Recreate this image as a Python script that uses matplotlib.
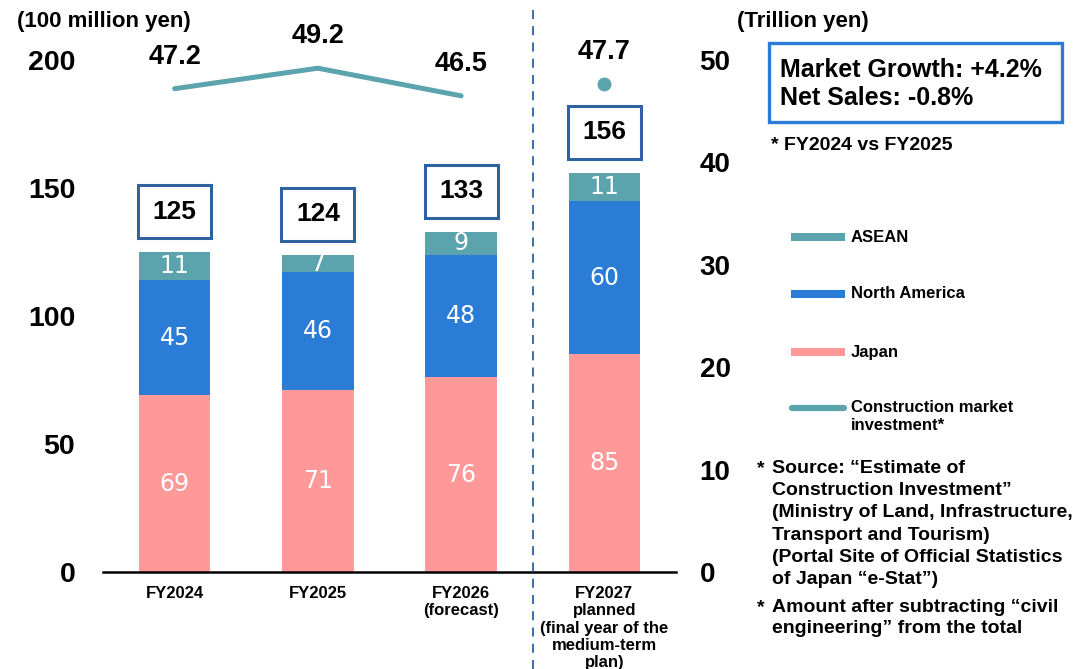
import matplotlib
matplotlib.use("Agg")
import matplotlib.pyplot as plt
from matplotlib.patches import Rectangle
from matplotlib.lines import Line2D

plt.rcParams['font.family'] = ['Liberation Sans', 'DejaVu Sans']

# -----------------------------
# data
# -----------------------------
years = ["FY2024", "FY2025", "FY2026\n(forecast)",
         "FY2027\nplanned\n(final year of the\nmedium-term\nplan)"]
japan = [69, 71, 76, 85]
north_america = [45, 46, 48, 60]
asean = [11, 7, 9, 11]
totals = [125, 124, 133, 156]
market = [47.2, 49.2, 46.5]      # actual / forecast, connected
market_plan = [47.7]             # planned year, single point

c_japan = "#ff9999"
c_na = "#2b7cd6"
c_asean = "#5ba4ad"
c_line = "#5ba4ad"
c_box = "#2e62a0"

W, H = 1074, 669
fig = plt.figure(figsize=(W / 100, H / 100), dpi=100)
ax = fig.add_axes([103 / W, 1 - 572 / H, 573 / W, 512 / H])
ax2 = ax.twinx()


def fx(px):
    return px / W


def fy(py):
    return 1 - py / H


x = list(range(len(years)))
w = 0.5

# -----------------------------
# stacked bars
# -----------------------------
bottom2 = [a + b for a, b in zip(japan, north_america)]
ax.bar(x, japan, w, color=c_japan, zorder=2)
ax.bar(x, north_america, w, bottom=japan, color=c_na, zorder=2)
ax.bar(x, asean, w, bottom=bottom2, color=c_asean, zorder=2)

for i in x:
    segs = [(0, japan[i]), (japan[i], north_america[i]), (bottom2[i], asean[i])]
    for b, v in segs:
        ax.text(i, b + v / 2, str(v), ha="center", va="center", color="white",
                fontsize=17, family="DejaVu Sans", zorder=3)
    ax.annotate(str(totals[i]), (i, totals[i]), xytext=(0, 29), textcoords="offset points",
                ha="center", va="center", fontsize=19, fontweight="bold",
                bbox=dict(boxstyle="square,pad=0.55", fc="white", ec=c_box, lw=2.2))

ax.set_xlim(-0.5, 3.5)
ax.set_ylim(0, 200)
ax.set_yticks([0, 50, 100, 150, 200])
ax.set_xticks(x)
ax.set_xticklabels(years, fontsize=12, fontweight="bold", linespacing=1.2)
ax.tick_params(axis="y", length=0, labelsize=20.5, pad=20)
ax.tick_params(axis="x", length=0, pad=10)
for lab in ax.get_yticklabels():
    lab.set_fontweight("bold")
for s in ["top", "right", "left"]:
    ax.spines[s].set_visible(False)
ax.spines["bottom"].set_linewidth(1.8)
ax.spines["bottom"].set_zorder(4)

# -----------------------------
# construction market line (right axis)
# -----------------------------
ax2.set_ylim(0, 50)
ax2.set_yticks([0, 10, 20, 30, 40, 50])
ax2.tick_params(axis="y", length=0, labelsize=20, pad=17)
for lab in ax2.get_yticklabels():
    lab.set_fontweight("bold")
for s in ax2.spines.values():
    s.set_visible(False)

ax2.plot(x[:3], market, color=c_line, lw=3.6, solid_capstyle="round")
ax2.plot(x[3:], market_plan, "o", color=c_line, ms=9)
for xi, v in zip(x, market + market_plan):
    ax2.annotate(f"{v:.1f}", (xi, v), xytext=(0, 23), textcoords="offset points",
                 ha="center", va="center", fontsize=19.5, fontweight="bold")

# dashed separator before the plan year
ax.plot([2.5, 2.5], [-0.19, 1.1], transform=ax.get_xaxis_transform(),
        color=c_box, lw=1.3, ls=(0, (5, 4)), clip_on=False, zorder=5)

# -----------------------------
# axis units, callout, legend, notes
# -----------------------------
fig.text(fx(17), fy(21), "(100 million yen)", fontsize=16, fontweight="bold", va="center")
fig.text(fx(737), fy(21), "(Trillion yen)", fontsize=16, fontweight="bold", va="center")

fig.add_artist(Rectangle((fx(769), fy(122)), fx(1062) - fx(769), fy(43) - fy(122),
                         transform=fig.transFigure, fc="white", ec=c_na, lw=2.4))
fig.text(fx(780), fy(84), "Market Growth: +4.2%\nNet Sales: -0.8%",
         fontsize=18, fontweight="bold", va="center", linespacing=1.2)
fig.text(fx(771), fy(145), "* FY2024 vs FY2025", fontsize=14, fontweight="bold",
         va="center")

# legend entries
leg_y = [237, 294, 352]
leg_c = [c_asean, c_na, c_japan]
leg_t = ["ASEAN", "North America", "Japan"]
for yy, cc, tt in zip(leg_y, leg_c, leg_t):
    fig.add_artist(Rectangle((fx(791), fy(yy + 4)), fx(845) - fx(791), fy(yy - 4) - fy(yy + 4),
                             transform=fig.transFigure, fc=cc, ec="none"))
    fig.text(fx(851), fy(yy), tt, fontsize=12, fontweight="bold", va="center")
fig.add_artist(Line2D([fx(792), fx(844)], [fy(408), fy(408)], transform=fig.transFigure,
                      color=c_line, lw=4.5, solid_capstyle="round"))
fig.text(fx(851), fy(400), "Construction market\ninvestment*", fontsize=12,
         fontweight="bold", va="top", linespacing=1.25)

fig.text(fx(757), fy(460), "*", fontsize=14, fontweight="bold", va="top")
fig.text(fx(772), fy(460),
         "Source: \u201cEstimate of\nConstruction Investment\u201d\n"
         "(Ministry of Land, Infrastructure,\nTransport and Tourism)\n"
         "(Portal Site of Official Statistics\nof Japan \u201ce-Stat\u201d)",
         fontsize=14, fontweight="bold", va="top", linespacing=1.4)
fig.text(fx(757), fy(599), "*", fontsize=14, fontweight="bold", va="top")
fig.text(fx(772), fy(599),
         "Amount after subtracting \u201ccivil\nengineering\u201d from the total",
         fontsize=14, fontweight="bold", va="top", linespacing=1.28)

fig.savefig("out.png", dpi=100)
